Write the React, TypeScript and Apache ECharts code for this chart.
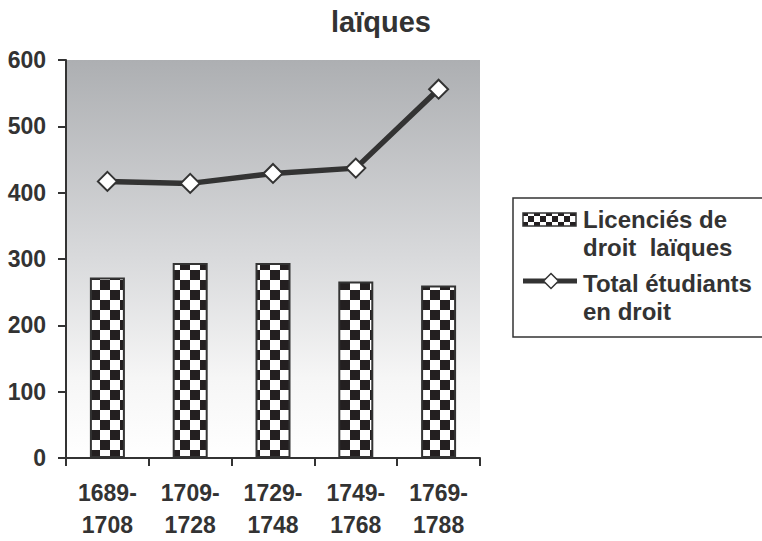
import React, { useEffect, useRef } from "react";
import * as echarts from "echarts";

const categories = ["1689-\n1708", "1709-\n1728", "1729-\n1748", "1749-\n1768", "1769-\n1788"];
const licencies = [272, 294, 294, 266, 260];
const totalEtudiants = [417, 414, 429, 437, 556];
const yTicks = [0, 100, 200, 300, 400, 500, 600];
const seriesNames = ["Licenciés de droit laïques", "Total étudiants en droit"];
const legendLabels = ["Licenciés de\ndroit  laïques", "Total étudiants\nen droit"];

function makeChecker(size: number): HTMLCanvasElement {
  const c = document.createElement("canvas");
  c.width = size * 2;
  c.height = size * 2;
  const ctx = c.getContext("2d")!;
  ctx.fillStyle = "#ffffff";
  ctx.fillRect(0, 0, size * 2, size * 2);
  ctx.fillStyle = "#231f20";
  ctx.fillRect(0, 0, size, size);
  ctx.fillRect(size, size, size, size);
  return c;
}

export default function App() {
  const ref = useRef<HTMLDivElement>(null);
  useEffect(() => {
    document.body.style.margin = "0";
    document.body.style.overflow = "hidden";
    if (!ref.current) return;
    const chart = echarts.init(ref.current, null, { renderer: "svg" });
    const checker = makeChecker(10);
    const smallChecker = makeChecker(6);
    const dark = "#333333";
    const font = "Liberation Sans";
    const legendText = { fontFamily: font, fontSize: 24, fontWeight: "bold", fill: dark, lineHeight: 28 };
    chart.setOption({
      animation: false,
      backgroundColor: "#ffffff",
      title: {
        text: "laïques",
        left: "center",
        top: 2,
        textStyle: { fontFamily: font, fontSize: 29, fontWeight: "bold", color: dark },
      },
      grid: {
        left: 66,
        top: 60,
        right: 282,
        bottom: 81,
        show: true,
        borderWidth: 0,
        backgroundColor: new echarts.graphic.LinearGradient(0, 0, 0, 1, [
          { offset: 0, color: "#adafb2" },
          { offset: 0.5, color: "#d9dadc" },
          { offset: 0.8, color: "#f6f6f6" },
          { offset: 1, color: "#ffffff" },
        ]),
      },
      graphic: [
        {
          type: "polyline",
          shape: { points: [[800, 198], [513, 198], [513, 337], [800, 337]] },
          style: { fill: "none", stroke: dark, lineWidth: 1.5 },
        },
        {
          type: "rect",
          shape: { x: 523, y: 213, width: 53, height: 13 },
          style: { fill: { image: smallChecker, repeat: "repeat" }, stroke: dark, lineWidth: 1.5 },
        },
        {
          type: "text",
          x: 583,
          y: 205.5,
          style: { ...legendText, text: legendLabels[0], verticalAlign: "top" },
        },
        {
          type: "line",
          shape: { x1: 523, y1: 281, x2: 577, y2: 281 },
          style: { stroke: dark, lineWidth: 5 },
        },
        {
          type: "polygon",
          shape: { points: [[551, 273.5], [558.5, 281], [551, 288.5], [543.5, 281]] },
          style: { fill: "#ffffff", stroke: dark, lineWidth: 1.5 },
        },
        {
          type: "text",
          x: 583,
          y: 269,
          style: { ...legendText, text: legendLabels[1], verticalAlign: "top" },
        },
      ],
      xAxis: {
        type: "category",
        data: categories,
        axisLine: { lineStyle: { color: dark, width: 2 } },
        axisTick: { show: true, length: 8, lineStyle: { color: dark, width: 2 } },
        axisLabel: {
          fontFamily: font,
          fontSize: 23,
          fontWeight: "bold",
          color: dark,
          lineHeight: 32,
          margin: 19,
        },
      },
      yAxis: {
        type: "value",
        min: yTicks[0],
        max: yTicks[yTicks.length - 1],
        interval: 100,
        splitLine: { show: false },
        axisLine: { show: true, lineStyle: { color: dark, width: 2 } },
        axisTick: { show: true, length: 8, lineStyle: { color: dark, width: 2 } },
        axisLabel: { fontFamily: font, fontSize: 23, fontWeight: "bold", color: dark, margin: 20 },
      },
      series: [
        {
          name: seriesNames[0],
          type: "bar",
          data: licencies,
          barWidth: 35,
          itemStyle: {
            color: { image: checker, repeat: "repeat" },
            borderColor: dark,
            borderWidth: 2,
          },
        },
        {
          name: seriesNames[1],
          type: "line",
          data: totalEtudiants,
          symbol: "diamond",
          symbolSize: 19,
          lineStyle: { color: dark, width: 5.5 },
          itemStyle: { color: "#ffffff", borderColor: dark, borderWidth: 2 },
        },
      ],
    });
    return () => chart.dispose();
  }, []);
  return (
    <div
      ref={ref}
      style={{ position: "absolute", left: 0, top: 0, width: 762, height: 541 }}
    />
  );
}
